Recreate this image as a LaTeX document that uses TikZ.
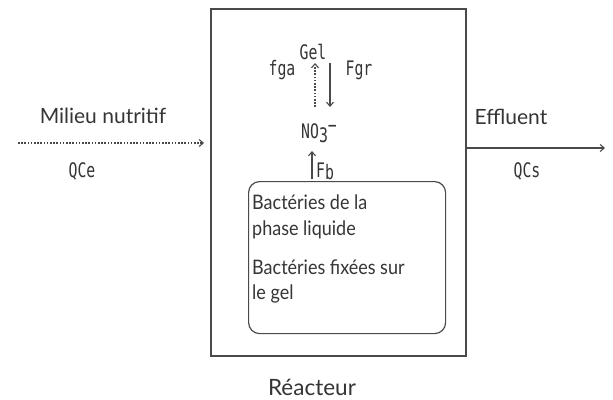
\documentclass[tikz,border=0pt]{standalone}
\usepackage{fontspec}
\setmainfont{Lato}
\newfontfamily\narrowlato[FakeStretch=0.9]{Lato}
\newfontfamily\pix[FakeStretch=0.74]{DejaVu Sans Mono}
\usetikzlibrary{arrows.meta}
\definecolor{ln}{HTML}{4A4A4A}
\definecolor{tx}{HTML}{353535}
\tikzset{
  lbl/.style={text=tx, font=\fontsize{21}{25}\selectfont, inner sep=0pt},
  boxlbl/.style={text=tx, font=\narrowlato\fontsize{20}{24}\selectfont, inner sep=0pt},
  pixlbl/.style={text=tx, font=\pix\fontsize{20}{22}\selectfont, inner sep=0pt},
  tip/.style={-{Straight Barb[length=4pt,width=7pt]}},
  conn/.style={draw=ln, line width=1.1pt},
  dotline/.style={dash pattern=on 1.6pt off 1.6pt},
  frame/.style={draw=ln, line width=1.5pt},
}
\begin{document}
\begin{tikzpicture}[x=1pt,y=-1pt]
\useasboundingbox[fill=white] (0,0) rectangle (613,399);
% reactor
\node[frame, minimum width=255pt, minimum height=347pt, inner sep=0pt, anchor=north west] (reac) at (210,8) {};
\node[draw=ln, line width=1.2pt, rounded corners=11pt, minimum width=197pt, minimum height=152pt, inner sep=0pt, anchor=north west] (bact) at (248,181) {};
\node[boxlbl, anchor=base west] (b1) at (252,209) {Bactéries de la};
\node[boxlbl, anchor=base west] (b2) at (252,235) {phase liquide};
\node[boxlbl, anchor=base west] (b3) at (252,274) {Bactéries fixées sur};
\node[boxlbl, anchor=base west] (b4) at (252,299) {le gel};
\node[lbl, font=\fontsize{22.5}{26}\selectfont, anchor=base] (reacname) at (312,395) {Réacteur};
% inside labels
\node[pixlbl, anchor=base] (gel) at (313,59) {Gel};
\node[pixlbl, anchor=base west] (no3) at (301,138) {NO\raisebox{-4pt}{3}\raisebox{6pt}{−}};
\node[pixlbl, anchor=base] (fga) at (282,75) {fga};
\node[pixlbl, anchor=base] (fgr) at (359,75) {Fgr};
\node[pixlbl, anchor=base west] (fb) at (316,177) {F\raisebox{-2pt}{b}};
\coordinate (ga0) at (315,107);
\coordinate (ga1) at (315,63);
\coordinate (gr0) at (330,63);
\coordinate (gr1) at (330,107);
\coordinate (fb0) at (312,179);
\coordinate (fb1) at (312,151);
\draw[conn, tip, dotline] (ga0) -- (ga1);
\draw[conn, tip] (gr0) -- (gr1);
\draw[conn, tip] (fb0) -- (fb1);
% flows
\node[lbl, anchor=base] (milieu) at (103,123) {Milieu nutritif};
\node[pixlbl, anchor=base] (qce) at (82,177) {QCe};
\node[lbl, anchor=base] (efflu) at (511,124) {Effluent};
\node[pixlbl, anchor=base] (qcs) at (527,177) {QCs};
\coordinate (in0) at (18,143);
\coordinate (in1) at (204,143);
\draw[conn, tip, dotline] (in0) -- (in1);
\coordinate (out1) at (605,148);
\draw[conn, tip] (reac.east |- out1) -- (out1);
\end{tikzpicture}
\end{document}
